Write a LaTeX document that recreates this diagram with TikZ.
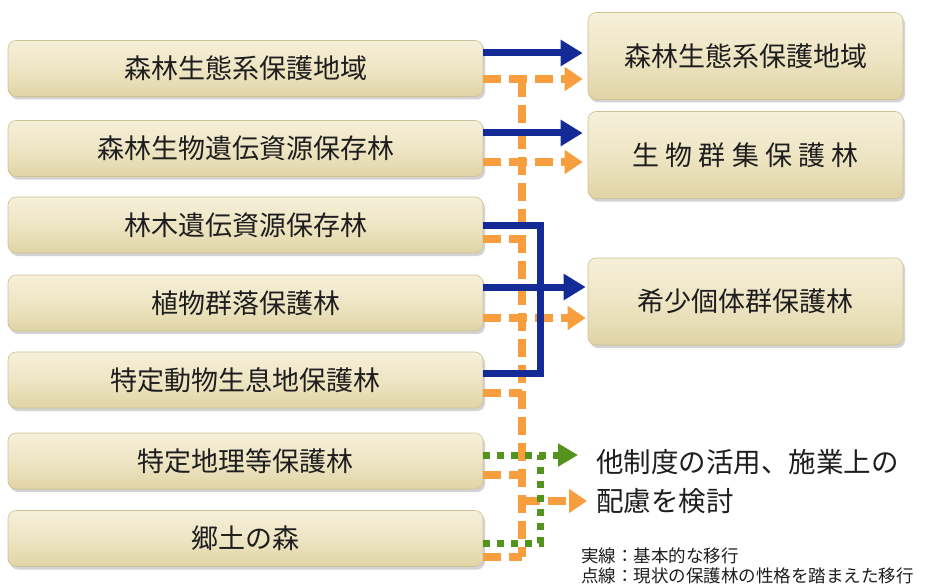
\documentclass[tikz,border=0pt]{standalone}
\usepackage{fontspec}
\newfontfamily\jp{Noto Sans CJK JP}
\usetikzlibrary{arrows.meta,shadows,calc}
\definecolor{blueC}{RGB}{20,42,150}
\definecolor{orangeC}{RGB}{247,158,62}
\definecolor{greenC}{RGB}{84,148,30}
\definecolor{boxTop}{RGB}{246,240,218}
\definecolor{boxMid}{RGB}{238,229,196}
\definecolor{boxBot}{RGB}{224,212,165}
\definecolor{boxEdge}{RGB}{205,194,150}
\definecolor{txt}{RGB}{30,30,30}
\begin{document}
\begin{tikzpicture}[x=1pt,y=-1pt,
  srcbox/.style={rounded corners=8pt, minimum width=475pt, minimum height=56pt,
    top color=boxTop, bottom color=boxBot, middle color=boxMid, draw=boxEdge, line width=0.6pt,
    drop shadow={shadow xshift=2pt,shadow yshift=-3pt,opacity=0.35},
    font=\jp\fontsize{27}{32}\selectfont, text=txt, inner sep=0pt},
  dstbox/.style={srcbox, minimum width=315pt, minimum height=87pt},
  basic/.style={draw=blueC, line width=7pt},
  basictip/.style={basic, -{Triangle[length=22pt,width=25pt]}},
  trans/.style={draw=orangeC, line width=8pt, dash pattern=on 18pt off 8pt},
  transtip/.style={trans, -{Triangle[length=18pt,width=23pt]}},
  other/.style={draw=greenC, line width=7pt, dash pattern=on 7pt off 7pt},
  othertip/.style={other, -{Triangle[length=20pt,width=22pt]}},
  note/.style={font=\jp\fontsize{27.5}{32}\selectfont, text=txt, inner sep=0pt, anchor=west},
  legend/.style={font=\jp\fontsize{17.5}{20}\selectfont, text=txt, inner sep=0pt, anchor=west}
]
\useasboundingbox (0,0) rectangle (925,588);

% source boxes
\node[srcbox] (L1) at (245.5,68.5) {森林生態系保護地域};
\node[srcbox] (L2) at (245.5,148.5) {森林生物遺伝資源保存林};
\node[srcbox] (L3) at (245.5,225) {林木遺伝資源保存林};
\node[srcbox] (L4) at (245.5,303) {植物群落保護林};
\node[srcbox] (L5) at (245.5,380) {特定動物生息地保護林};
\node[srcbox] (L6) at (245.5,461) {特定地理等保護林};
\node[srcbox] (L7) at (245.5,538.5) {郷土の森};

% destination boxes
\node[dstbox] (R1) at (745.5,56) {森林生態系保護地域};
\node[dstbox] (R2) at (745.5,155) {生 物 群 集 保 護 林};
\node[dstbox] (R3) at (745.5,301.5) {希少個体群保護林};

% notes
\node[note] (T1) at (596,462) {他制度の活用、施業上の};
\node[note] (T2) at (596,501) {配慮を検討};
\node[legend] (G1) at (581,556) {実線：基本的な移行};
\node[legend] (G2) at (581,576) {点線：現状の保護林の性格を踏まえた移行};

% junction points
\coordinate (busT) at (522,79);
\coordinate (busB) at (522,557);
\coordinate (bj) at (540,225);
\coordinate (gj) at (540,455);

% orange dashed transitions
\draw[trans] (busT) -- (busB);
\draw[transtip, shorten >=5pt] ([yshift=-10.5pt]L1.east) -- ([yshift=-10.5pt]L1.east -| R1.west);
\draw[transtip, shorten >=5pt] ([yshift=-13.5pt]L2.east) -- ([yshift=-13.5pt]L2.east -| R2.west);
\draw[trans] ([yshift=-14pt]L3.east) -- ([yshift=-14pt]L3.east -| busT);
\draw[transtip, shorten >=2pt] ([yshift=-15pt]L4.east) -- ([yshift=-15pt]L4.east -| R3.west);
\draw[trans] ([yshift=-13pt]L5.east) -- ([yshift=-13pt]L5.east -| busT);
\draw[trans] ([yshift=-14pt]L6.east) -- ([yshift=-14pt]L6.east -| busT);
\draw[trans] ([yshift=-18.5pt]L7.east) -- (busB);
\draw[transtip, shorten >=9pt] (busT |- T2.west) -- (T2.west);

% blue basic transitions
\draw[basictip, shorten >=5pt] ([yshift=15.5pt]L1.east) -- ([yshift=15.5pt]L1.east -| R1.west);
\draw[basictip, shorten >=5pt] ([yshift=15.5pt]L2.east) -- ([yshift=15.5pt]L2.east -| R2.west);
\draw[basic] (L3.east) -- (bj) |- ([yshift=7pt]L5.east);
\draw[basictip, shorten >=2pt] ([yshift=16pt]L4.east) -- ([yshift=16pt]L4.east -| R3.west);

% green dotted
\draw[othertip, shorten >=18pt] ([yshift=6pt]L6.east) -- ([yshift=6pt]L6.east -| T1.west);
\draw[other] ([yshift=-4.5pt]L7.east) -| (gj);
\end{tikzpicture}
\end{document}
